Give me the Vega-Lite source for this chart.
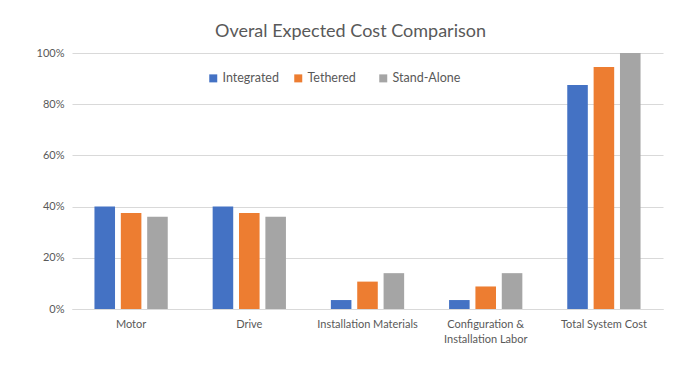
{
  "$schema": "https://vega.github.io/schema/vega-lite/v6.json",
  "width": 591,
  "height": 256,
  "autosize": {"type": "none"},
  "padding": {"left": 72, "top": 53, "right": 26, "bottom": 69},
  "background": "white",
  "title": {
    "text": "Overal Expected Cost Comparison",
    "fontSize": 18,
    "font": "Lato",
    "fontWeight": "normal",
    "color": "#595959",
    "offset": 6,
    "dx": -17
  },
  "data": {
    "values": [
      {"category": "Motor", "series": "Integrated", "value": 0.40},
      {"category": "Motor", "series": "Tethered", "value": 0.375},
      {"category": "Motor", "series": "Stand-Alone", "value": 0.36},
      {"category": "Drive", "series": "Integrated", "value": 0.40},
      {"category": "Drive", "series": "Tethered", "value": 0.375},
      {"category": "Drive", "series": "Stand-Alone", "value": 0.36},
      {"category": "Installation Materials", "series": "Integrated", "value": 0.035},
      {"category": "Installation Materials", "series": "Tethered", "value": 0.107},
      {"category": "Installation Materials", "series": "Stand-Alone", "value": 0.14},
      {"category": "Configuration & Installation Labor", "series": "Integrated", "value": 0.035},
      {"category": "Configuration & Installation Labor", "series": "Tethered", "value": 0.088},
      {"category": "Configuration & Installation Labor", "series": "Stand-Alone", "value": 0.14},
      {"category": "Total System Cost", "series": "Integrated", "value": 0.875},
      {"category": "Total System Cost", "series": "Tethered", "value": 0.945},
      {"category": "Total System Cost", "series": "Stand-Alone", "value": 1.0}
    ]
  },
  "mark": {"type": "bar"},
  "encoding": {
    "x": {
      "field": "category",
      "type": "nominal",
      "sort": ["Motor", "Drive", "Installation Materials", "Configuration & Installation Labor", "Total System Cost"],
      "scale": {"paddingInner": 0.38, "paddingOuter": 0.19},
      "axis": {
        "title": null,
        "labelAngle": 0,
        "ticks": false,
        "domainColor": "#D9D9D9",
        "labelColor": "#595959",
        "labelFontSize": 11,
        "labelPadding": 9,
        "labelLineHeight": 15,
        "labelExpr": "datum.label == 'Configuration & Installation Labor' ? ['Configuration &', 'Installation Labor'] : datum.label"
      }
    },
    "xOffset": {
      "field": "series",
      "type": "nominal",
      "sort": ["Integrated", "Tethered", "Stand-Alone"],
      "scale": {"paddingInner": 0.22}
    },
    "y": {
      "field": "value",
      "type": "quantitative",
      "scale": {"domain": [0, 1]},
      "axis": {
        "title": null,
        "format": ".0%",
        "values": [0, 0.2, 0.4, 0.6, 0.8, 1.0],
        "domain": false,
        "ticks": false,
        "gridColor": "#D9D9D9",
        "labelColor": "#595959",
        "labelFontSize": 11,
        "labelPadding": 8
      }
    },
    "color": {
      "field": "series",
      "type": "nominal",
      "sort": ["Integrated", "Tethered", "Stand-Alone"],
      "scale": {"domain": ["Integrated", "Tethered", "Stand-Alone"], "range": ["#4472C4", "#ED7D31", "#A5A5A5"]},
      "legend": {
        "orient": "none",
        "legendX": 135,
        "legendY": 19,
        "direction": "horizontal",
        "title": null,
        "symbolType": "square",
        "symbolSize": 64,
        "labelFontSize": 12.5,
        "labelColor": "#595959",
        "labelOffset": 3,
        "columnPadding": 1,
        "gridAlign": "all"
      }
    }
  },
  "config": {
    "view": {"stroke": null},
    "font": "Lato"
  }
}
